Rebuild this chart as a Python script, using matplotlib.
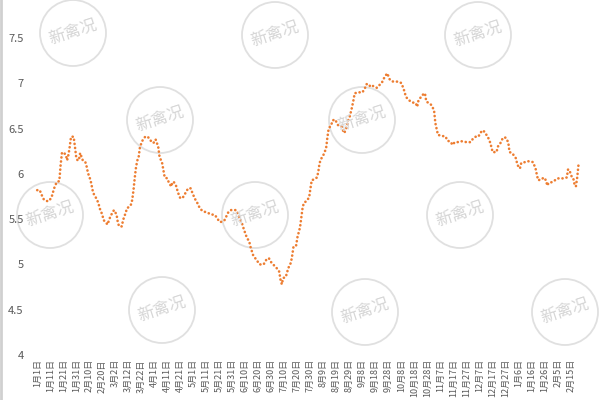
import matplotlib
matplotlib.use("Agg")
import matplotlib.pyplot as plt
from matplotlib.patches import Ellipse
from matplotlib.lines import Line2D
import pandas as pd

plt.rcParams['font.family'] = ['Noto Sans CJK SC', 'DejaVu Sans']

# days since Jan 1 and price readings
days = [0, 2, 3, 5, 7, 9, 11, 13, 15, 17, 18, 19, 20, 22, 23, 24, 25, 26, 28, 29,
        30, 31, 32, 33, 34, 35, 37, 38, 39, 41, 42, 43, 45, 47, 48, 50, 51, 53, 54, 56,
        57, 59, 61, 62, 63, 65, 66, 68, 69, 71, 72, 73, 74, 75, 76, 77, 78, 79, 81, 83,
        85, 87, 89, 90, 91, 93, 94, 96, 97, 98, 100, 101, 103, 104, 105, 107, 108, 110, 112, 114,
        116, 118, 119, 121, 123, 125, 127, 129, 131, 134, 136, 138, 140, 142, 144, 146, 147, 149, 151, 153,
        155, 157, 159, 161, 163, 164, 166, 168, 171, 174, 176, 178, 180, 182, 184, 186, 187, 188, 189, 191,
        193, 195, 196, 197, 199, 200, 202, 203, 204, 205, 207, 209, 210, 211, 213, 215, 216, 217, 219, 220,
        222, 223, 224, 226, 227, 229, 231, 234, 235, 236, 238, 239, 240, 242, 243, 244, 247, 250, 252, 253,
        255, 256, 258, 260, 261, 263, 265, 267, 269, 271, 273, 276, 279, 280, 282, 283, 284, 286, 288, 291,
        292, 293, 296, 298, 299, 302, 303, 305, 306, 308, 311, 314, 315, 318, 319, 321, 323, 326, 330, 333,
        335, 337, 339, 341, 343, 344, 346, 348, 349, 350, 353, 354, 356, 358, 360, 362, 363, 365, 366, 368,
        369, 371, 372, 375, 377, 381, 383, 384, 385, 388, 389, 391, 392, 393, 396, 398, 400, 404, 407, 408,
        409, 411, 412, 413, 414, 415, 416]
prices = [5.82, 5.82, 5.78, 5.72, 5.70, 5.70, 5.74, 5.84, 5.91, 5.92, 6.10, 6.23, 6.24, 6.21, 6.15, 6.21, 6.30, 6.41, 6.41, 6.30,
          6.18, 6.15, 6.15, 6.23, 6.19, 6.15, 6.13, 6.08, 6.01, 5.93, 5.86, 5.79, 5.74, 5.68, 5.62, 5.55, 5.49, 5.46, 5.44, 5.52,
          5.55, 5.60, 5.55, 5.46, 5.42, 5.42, 5.49, 5.57, 5.62, 5.64, 5.66, 5.71, 5.82, 5.96, 6.08, 6.15, 6.19, 6.30, 6.37, 6.41,
          6.41, 6.37, 6.34, 6.35, 6.38, 6.30, 6.19, 6.12, 6.04, 5.96, 5.95, 5.91, 5.86, 5.91, 5.91, 5.86, 5.80, 5.73, 5.74, 5.79,
          5.84, 5.84, 5.80, 5.73, 5.68, 5.62, 5.59, 5.58, 5.57, 5.55, 5.55, 5.52, 5.47, 5.47, 5.49, 5.55, 5.58, 5.60, 5.60, 5.60,
          5.53, 5.47, 5.38, 5.30, 5.25, 5.19, 5.10, 5.06, 5.00, 5.00, 5.05, 5.07, 5.02, 4.99, 4.96, 4.92, 4.83, 4.78, 4.85, 4.86,
          4.96, 5.02, 5.10, 5.20, 5.21, 5.30, 5.41, 5.52, 5.63, 5.68, 5.70, 5.74, 5.84, 5.93, 5.94, 5.96, 6.02, 6.12, 6.19, 6.21,
          6.28, 6.40, 6.50, 6.54, 6.59, 6.60, 6.54, 6.52, 6.48, 6.45, 6.52, 6.59, 6.62, 6.74, 6.81, 6.89, 6.90, 6.90, 6.95, 6.99,
          6.99, 6.96, 6.97, 6.96, 6.95, 6.98, 7.01, 7.07, 7.11, 7.04, 7.02, 7.02, 7.01, 7.00, 6.92, 6.87, 6.84, 6.81, 6.79, 6.78,
          6.74, 6.81, 6.87, 6.89, 6.80, 6.77, 6.76, 6.70, 6.56, 6.43, 6.42, 6.41, 6.37, 6.35, 6.32, 6.35, 6.35, 6.36, 6.35, 6.35,
          6.39, 6.41, 6.41, 6.46, 6.48, 6.45, 6.42, 6.35, 6.30, 6.24, 6.24, 6.30, 6.34, 6.40, 6.40, 6.35, 6.24, 6.23, 6.21, 6.17,
          6.10, 6.06, 6.12, 6.13, 6.14, 6.13, 6.06, 5.99, 5.93, 5.94, 5.96, 5.93, 5.87, 5.90, 5.91, 5.93, 5.95, 5.95, 5.96, 6.05,
          6.04, 5.96, 5.95, 5.88, 5.86, 5.96, 6.10]
yticks = [4, 4.5, 5, 5.5, 6, 6.5, 7, 7.5]
start = pd.Timestamp("2019-01-01")
tick_days = list(range(0, 411, 10))

fig = plt.figure(figsize=(6, 4), dpi=100)
ax = fig.add_axes([32 / 600, 45 / 400, 553 / 600, 317 / 400])

# watermark logos
marks = [(73, 33), (275, 35), (478, 35), (160, 120), (362, 120),
         (50, 215), (255, 215), (460, 215), (162, 310), (365, 312), (565, 312)]
for mx, my in marks:
    fig.add_artist(Ellipse((mx / 600, 1 - my / 400), 66 / 600, 66 / 400,
                           transform=fig.transFigure, fill=False,
                           edgecolor="#e0e0e0", linewidth=1.3, zorder=0))
    fig.text(mx / 600, 1 - my / 400, "新禽况", color="#d6d6d6", fontsize=12,
             rotation=18, ha="center", va="center", zorder=0)

ax.set_facecolor("none")
ax.plot(days, prices, color="#ED7D31", linewidth=1.9,
        linestyle=(0, (0.05, 1.5)), dash_capstyle="round", zorder=3)

ax.set_xlim(-4, 421)
ax.set_ylim(4, 7.5)
ax.set_yticks(yticks)
ax.set_yticklabels([f"{v:g}" for v in yticks])
labels = []
for d in tick_days:
    t = start + pd.Timedelta(days=d)
    labels.append(f"{t.month}月{t.day}日")
ax.set_xticks(tick_days)
ax.set_xticklabels(labels, rotation=90, fontsize=6.5, color="#595959")
ax.tick_params(axis="y", length=0, labelsize=8, labelcolor="#595959", pad=6)
ax.tick_params(axis="x", length=0, pad=3)
for s in ax.spines.values():
    s.set_visible(False)

fig.add_artist(Line2D([0.002, 0.002], [0, 1], transform=fig.transFigure,
                      color="#d0d0d0", linewidth=2))

fig.savefig("out.png", dpi=100)
